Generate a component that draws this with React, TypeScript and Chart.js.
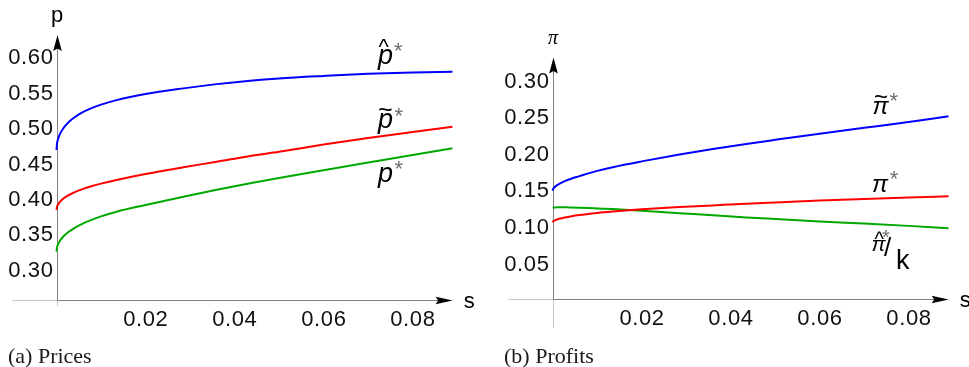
import { useEffect, useRef } from 'react';
import { Chart, registerables } from 'chart.js';

Chart.register(...registerables);

// ---------- data ----------
const sValues = [0, 0.0001, 0.0003, 0.0006, 0.001, 0.0015, 0.002, 0.003, 0.004, 0.006, 0.008, 0.01, 0.0135, 0.02, 0.0285, 0.036, 0.0435, 0.05, 0.06, 0.07, 0.08, 0.089];

const pHat = [0.468, 0.4765, 0.4824, 0.488, 0.4933, 0.4984, 0.5024, 0.5089, 0.5139, 0.5217, 0.5275, 0.532, 0.5384, 0.547, 0.555, 0.561, 0.5658, 0.569, 0.5725, 0.5755, 0.5774, 0.5785];
const pTilde = [0.3833, 0.3875, 0.3906, 0.3935, 0.3963, 0.3991, 0.4014, 0.4051, 0.4082, 0.4131, 0.4171, 0.4205, 0.4256, 0.434, 0.4435, 0.4514, 0.4595, 0.4655, 0.4757, 0.4849, 0.4934, 0.5008];
const pStar = [0.3243, 0.33, 0.334, 0.3379, 0.3417, 0.3454, 0.3485, 0.3535, 0.3576, 0.3643, 0.3696, 0.3742, 0.3808, 0.3903, 0.402, 0.4118, 0.421, 0.4285, 0.4395, 0.4503, 0.461, 0.4703];

const piTilde = [0.1484, 0.1507, 0.1524, 0.1542, 0.156, 0.1578, 0.1594, 0.1621, 0.1644, 0.1682, 0.172, 0.1754, 0.1805, 0.1884, 0.1978, 0.2053, 0.2122, 0.2178, 0.2262, 0.2342, 0.2422, 0.25];
const piStar = [0.105, 0.1063, 0.10725, 0.1082, 0.1091, 0.11, 0.1108, 0.1121, 0.1132, 0.1151, 0.1166, 0.118, 0.1199, 0.1229, 0.126, 0.1283, 0.1306, 0.1323, 0.1348, 0.137, 0.139, 0.1406];
const piHatK = [0.1253, 0.1253, 0.1254, 0.1255, 0.1256, 0.1256, 0.1256, 0.1256, 0.1255, 0.1252, 0.1248, 0.1242, 0.1232, 0.1209, 0.1175, 0.1148, 0.1119, 0.1097, 0.1064, 0.1034, 0.1003, 0.0972];

const sTicks = [0.02, 0.04, 0.06, 0.08];
const sTickLabels = ['0.02', '0.04', '0.06', '0.08'];
const priceTicks = [0.3, 0.35, 0.4, 0.45, 0.5, 0.55, 0.6];
const priceTickLabels = ['0.30', '0.35', '0.40', '0.45', '0.50', '0.55', '0.60'];
const profitTicks = [0.05, 0.1, 0.15, 0.2, 0.25, 0.3];
const profitTickLabels = ['0.05', '0.10', '0.15', '0.20', '0.25', '0.30'];

const BLUE = '#0000ff';
const RED = '#ff0000';
const GREEN = '#00a800';

// ---------- helpers ----------
const SANS = "'Liberation Sans', Arial, sans-serif";
const SERIF = "'Liberation Serif', 'Times New Roman', serif";

function drawCentered(ctx: CanvasRenderingContext2D, text: string, font: string, color: string, cx: number, cy: number) {
  ctx.font = font;
  ctx.fillStyle = color;
  ctx.textAlign = 'left';
  ctx.textBaseline = 'alphabetic';
  (ctx as any).letterSpacing = '0px';
  const m = ctx.measureText(text);
  const x0 = cx - (m.actualBoundingBoxRight - m.actualBoundingBoxLeft) / 2;
  const y0 = cy - (m.actualBoundingBoxDescent - m.actualBoundingBoxAscent) / 2;
  ctx.fillText(text, x0, y0);
}

type Part = { text: string; font: string; color: string; dx: number; dy: number };
type Note = { s: number; v: number; parts: Part[] };

type PanelCfg = {
  xAxisAt: number;
  yTicks: number[];
  yTickLabels: string[];
  yLabel: { text: string; font: string; dy: number };
  caption: string;
  captionX: number;
  notes: Note[];
};

const STAR = '#6e6e6e';

const priceNotes: Note[] = [
  {
    s: 0.07378, v: 0.5951, parts: [
      { text: 'p', font: `italic 27px ${SANS}`, color: '#000', dx: 0, dy: 0 },
      { text: '^', font: `22px ${SANS}`, color: '#000', dx: -1, dy: -17 },
      { text: '*', font: `22px ${SANS}`, color: STAR, dx: 13.5, dy: -12.5 },
    ],
  },
  {
    s: 0.07378, v: 0.5047, parts: [
      { text: 'p', font: `italic 27px ${SANS}`, color: '#000', dx: 0, dy: 0 },
      { text: '~', font: `25px ${SANS}`, color: '#000', dx: 0.5, dy: -14 },
      { text: '*', font: `22px ${SANS}`, color: STAR, dx: 14, dy: -12.3 },
    ],
  },
  {
    s: 0.07378, v: 0.4291, parts: [
      { text: 'p', font: `italic 27px ${SANS}`, color: '#000', dx: 0, dy: 0 },
      { text: '*', font: `22px ${SANS}`, color: STAR, dx: 14, dy: -12.5 },
    ],
  },
];

const profitNotes: Note[] = [
  {
    s: 0.07392, v: 0.262, parts: [
      { text: 'π', font: `italic 24px ${SANS}`, color: '#000', dx: 0, dy: 0 },
      { text: '~', font: `24px ${SANS}`, color: '#000', dx: -0.7, dy: -11 },
      { text: '*', font: `22px ${SANS}`, color: STAR, dx: 12.3, dy: -10.5 },
    ],
  },
  {
    s: 0.07376, v: 0.1548, parts: [
      { text: 'π', font: `italic 24px ${SANS}`, color: '#000', dx: 0, dy: 0 },
      { text: '*', font: `22px ${SANS}`, color: STAR, dx: 13.3, dy: -11.2 },
    ],
  },
  {
    s: 0.07331, v: 0.0735, parts: [
      { text: 'π', font: `italic 21px ${SANS}`, color: '#000', dx: 0, dy: 0 },
      { text: '^', font: `20px ${SANS}`, color: '#000', dx: 0.5, dy: -10.5 },
      { text: '*', font: `20px ${SANS}`, color: STAR, dx: 7, dy: -11.5 },
      { text: '/', font: `26px ${SANS}`, color: '#000', dx: 9, dy: 1 },
      { text: 'k', font: `27px ${SANS}`, color: '#000', dx: 24.5, dy: 13.5 },
    ],
  },
];

function makePlugin(cfg: PanelCfg) {
  return {
    id: 'axesAndNotes',
    beforeDatasetsDraw(chart: any) {
      const { ctx, chartArea: a, scales } = chart;
      const x = scales.x;
      const y = scales.y;
      const ox = Math.round(x.getPixelForValue(0)) + 0.5;
      const oy = Math.round(y.getPixelForValue(cfg.xAxisAt)) + 0.5;
      ctx.save();
      ctx.lineWidth = 1;
      // light extensions
      ctx.strokeStyle = '#c6c6c6';
      ctx.beginPath();
      ctx.moveTo(a.left, oy);
      ctx.lineTo(ox, oy);
      ctx.moveTo(ox, oy);
      ctx.lineTo(ox, a.bottom);
      ctx.stroke();
      // main axes
      ctx.strokeStyle = '#808080';
      ctx.beginPath();
      ctx.moveTo(ox, oy);
      ctx.lineTo(a.right - 12, oy);
      ctx.moveTo(ox, oy);
      ctx.lineTo(ox, a.top + 12);
      ctx.stroke();
      // arrowheads
      ctx.fillStyle = '#000';
      ctx.beginPath();
      ctx.moveTo(a.right, oy);
      ctx.lineTo(a.right - 17, oy - 3.8);
      ctx.lineTo(a.right - 14.5, oy);
      ctx.lineTo(a.right - 17, oy + 3.8);
      ctx.closePath();
      ctx.fill();
      ctx.beginPath();
      ctx.moveTo(ox, a.top);
      ctx.lineTo(ox - 4.3, a.top + 16);
      ctx.lineTo(ox, a.top + 13.5);
      ctx.lineTo(ox + 4.3, a.top + 16);
      ctx.closePath();
      ctx.fill();

      // tick labels
      ctx.fillStyle = '#111';
      ctx.font = `22px ${SANS}`;
      (ctx as any).letterSpacing = '0.6px';
      ctx.textBaseline = 'alphabetic';
      ctx.textAlign = 'center';
      sTicks.forEach((t, i) => {
        ctx.fillText(sTickLabels[i], x.getPixelForValue(t) + 0.3, oy + 25);
      });
      ctx.textAlign = 'right';
      cfg.yTicks.forEach((t, i) => {
        ctx.fillText(cfg.yTickLabels[i], ox - 4, y.getPixelForValue(t) + 7.9);
      });
      (ctx as any).letterSpacing = '0px';

      // axis labels
      drawCentered(ctx, 's', `22px ${SANS}`, '#000', a.right + 16.5, oy + 1.5);
      drawCentered(ctx, cfg.yLabel.text, cfg.yLabel.font, '#000', ox, a.top + cfg.yLabel.dy);

      // caption
      ctx.font = `22px ${SERIF}`;
      ctx.fillStyle = '#1a1a1a';
      ctx.textAlign = 'left';
      ctx.textBaseline = 'alphabetic';
      ctx.fillText(cfg.caption, cfg.captionX, 363);
      ctx.restore();
    },
    afterDraw(chart: any) {
      const { ctx, scales } = chart;
      ctx.save();
      cfg.notes.forEach((n) => {
        const cx = scales.x.getPixelForValue(n.s);
        const cy = scales.y.getPixelForValue(n.v);
        n.parts.forEach((p) => drawCentered(ctx, p.text, p.font, p.color, cx + p.dx, cy + p.dy));
      });
      ctx.restore();
    },
  };
}

function series(vals: number[], color: string) {
  return {
    data: sValues.map((s, i) => ({ x: s, y: vals[i] })),
    borderColor: color,
    borderWidth: 2,
    pointRadius: 0,
    fill: false,
    cubicInterpolationMode: 'monotone' as const,
  };
}

function buildChart(
  canvas: HTMLCanvasElement,
  datasets: any[],
  yMin: number,
  yMax: number,
  padding: { left: number; right: number; top: number; bottom: number },
  cfg: PanelCfg,
) {
  return new Chart(canvas, {
    type: 'line',
    data: { datasets },
    options: {
      responsive: false,
      animation: false,
      devicePixelRatio: 1,
      events: [],
      layout: { padding },
      plugins: { legend: { display: false }, tooltip: { enabled: false } },
      scales: {
        x: { type: 'linear', min: -0.01, max: 0.089, display: false },
        y: { type: 'linear', min: yMin, max: yMax, display: false },
      },
    },
    plugins: [makePlugin(cfg)],
  } as any);
}

export default function App() {
  const leftRef = useRef<HTMLCanvasElement>(null);
  const rightRef = useRef<HTMLCanvasElement>(null);

  useEffect(() => {
    const left = buildChart(
      leftRef.current!,
      [series(pHat, BLUE), series(pTilde, RED), series(pStar, GREEN)],
      0.2476,
      0.6304,
      { left: 12, right: 31.35, top: 35, bottom: 61 },
      {
        xAxisAt: 0.2561,
        yTicks: priceTicks,
        yTickLabels: priceTickLabels,
        yLabel: { text: 'p', font: `22px ${SANS}`, dy: -16.5 },
        caption: '(a) Prices',
        captionX: 8,
        notes: priceNotes,
      },
    );
    const right = buildChart(
      rightRef.current!,
      [series(piTilde, BLUE), series(piStar, RED), series(piHatK, GREEN)],
      -0.0392,
      0.3303,
      { left: 24.2, right: 20.3, top: 57.5, bottom: 39 },
      {
        xAxisAt: 0,
        yTicks: profitTicks,
        yTickLabels: profitTickLabels,
        yLabel: { text: 'π', font: `italic 20px ${SERIF}`, dy: -19 },
        caption: '(b) Profits',
        captionX: 20,
        notes: profitNotes,
      },
    );
    return () => {
      left.destroy();
      right.destroy();
    };
  }, []);

  return (
    <div style={{ position: 'absolute', left: 0, top: 0, width: 969, height: 367, background: '#fff', overflow: 'hidden' }}>
      <canvas ref={leftRef} width={484} height={367} style={{ position: 'absolute', left: 0, top: 0 }} />
      <canvas ref={rightRef} width={485} height={367} style={{ position: 'absolute', left: 484, top: 0 }} />
    </div>
  );
}
